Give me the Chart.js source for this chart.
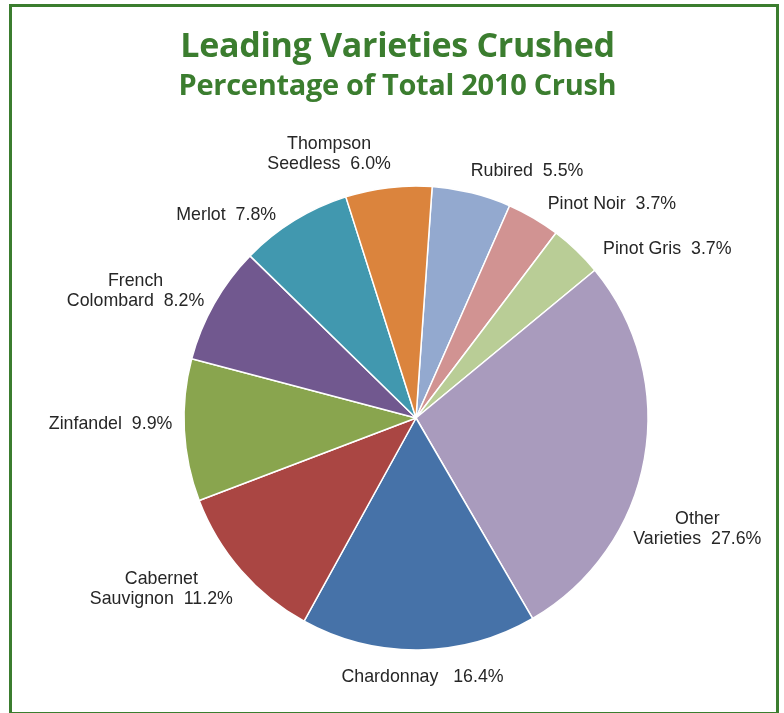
<!DOCTYPE html>
<html>
<head>
<meta charset="utf-8">
<script src="https://cdn.jsdelivr.net/npm/chart.js@4.4.1/dist/chart.umd.min.js"></script>
<style>
  html, body { margin: 0; padding: 0; background: #fff; overflow: hidden; }
  #wrap { position: relative; width: 784px; height: 713px; }
  #frame { position: absolute; left: 9px; top: 4px; width: 770px; height: 711px; box-sizing: border-box; border: 3px solid #3b7d2f; }
  .title { position: absolute; left: 0; width: 795px; text-align: center; font-family: "Open Sans"; font-weight: 700; color: #3b7d2f; white-space: nowrap; line-height: normal; letter-spacing: -0.3px; }
  #t1 { top: 21px; font-size: 34px; }
  #t2 { top: 64px; font-size: 29px; }
  canvas { position: absolute; left: 0; top: 0; }
</style>
</head>
<body>
<div id="wrap">
  <canvas id="pie" width="784" height="713"></canvas>
  <div id="frame"></div>
  <div class="title" id="t1">Leading Varieties Crushed</div>
  <div class="title" id="t2">Percentage of Total 2010 Crush</div>
</div>
<script>
// varieties, clockwise from the top
const varieties = ["Rubired", "Pinot Noir", "Pinot Gris", ["Other", "Varieties"], "Chardonnay",
  ["Cabernet", "Sauvignon"], "Zinfandel", ["French", "Colombard"], "Merlot", ["Thompson", "Seedless"]];
const shares = [5.5, 3.7, 3.7, 27.6, 16.4, 11.2, 9.9, 8.2, 7.8, 6.0];
const colors = ["#93a9cf", "#d19392", "#b9cd96", "#a99bbd", "#4672a8",
  "#aa4643", "#89a54e", "#71588f", "#4198af", "#db843d"];

// small shifts so labels sit where excel put them
const nudge = [[-3, -4], [10, 3], [21, 14], [-19, 49], [-4, 9], [-2, -6], [-4, -11], [-3, 12], [-14, 11], [0, -6]];
const LINE_H = 20;
const labelFont = '17.8px "Liberation Sans", Arial, sans-serif';

const clamp = v => Math.max(-1, Math.min(1, v));

const outLabels = {
  id: "outLabels",
  afterDatasetsDraw(chart) {
    const ctx = chart.ctx;
    const meta = chart.getDatasetMeta(0);
    ctx.save();
    ctx.font = labelFont;
    ctx.fillStyle = "#262626";
    ctx.textAlign = "center";
    ctx.textBaseline = "middle";
    meta.data.forEach((arc, i) => {
      const p = arc.getProps(["x", "y", "startAngle", "endAngle", "outerRadius"], true);
      const mid = (p.startAngle + p.endAngle) / 2;
      const r = p.outerRadius + 8;
      const ax = p.x + Math.cos(mid) * r;
      const ay = p.y + Math.sin(mid) * r;
      const name = [].concat(varieties[i]);
      const lines = name.slice(0, -1);
      const gap = i === 4 ? "   " : "  ";
      lines.push(name[name.length - 1] + gap + shares[i].toFixed(1) + "%");
      const w = Math.max(...lines.map(l => ctx.measureText(l).width));
      const h = lines.length * LINE_H;
      const cx = ax + clamp(Math.cos(mid) * 8) * w / 2 + nudge[i][0];
      const cy = ay + clamp(Math.sin(mid) * 8) * h / 2 + nudge[i][1];
      lines.forEach((l, j) => ctx.fillText(l, cx, cy - h / 2 + LINE_H * (j + 0.5)));
    });
    ctx.restore();
  }
};

new Chart(document.getElementById("pie"), {
  type: "pie",
  data: {
    labels: varieties,
    datasets: [{
      data: shares,
      backgroundColor: colors,
      borderColor: "#ffffff",
      borderWidth: 1.5,
      hoverOffset: 0
    }]
  },
  options: {
    responsive: false,
    animation: false,
    rotation: 4,
    radius: 232,
    layout: { padding: { left: 48, top: 123, right: 0, bottom: 0 } },
    plugins: {
      legend: { display: false },
      tooltip: { enabled: false }
    }
  },
  plugins: [outLabels]
});
</script>
</body>
</html>
